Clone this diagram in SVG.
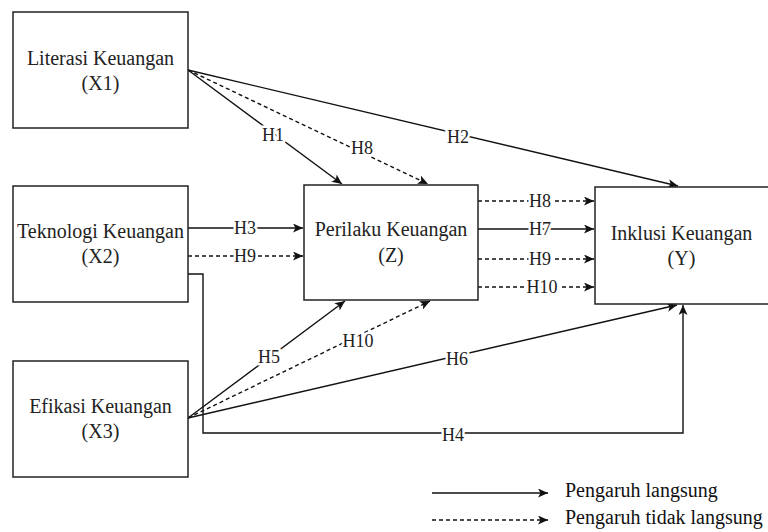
<svg xmlns="http://www.w3.org/2000/svg" width="768" height="532" viewBox="0 0 768 532" font-family="Liberation Serif, Times New Roman, serif">
  <defs>
    <marker id="arr" markerUnits="userSpaceOnUse" markerWidth="12" markerHeight="10" refX="10" refY="4.5" orient="auto">
      <path d="M0,0 L10,4.5 L0,9 L2.5,4.5 Z" fill="#111"/>
    </marker>
    <style>
      .box { fill: #fff; stroke: #222; stroke-width: 1.5; }
      .t { font-size: 20px; fill: #222; text-anchor: middle; }
      .lt { font-size: 20px; fill: #111; }
      .e { fill: none; stroke: #111; stroke-width: 1.4; marker-end: url(#arr); }
      .d { stroke-dasharray: 4 3; }
      .lbl { font-size: 18px; fill: #222; text-anchor: middle; stroke: #fff; stroke-width: 5; paint-order: stroke; stroke-linejoin: round; }
    </style>
  </defs>
  <rect width="768" height="532" fill="#fff"/>

  <g id="connectors">
    <line class="e" x1="188" y1="70" x2="342" y2="184"/>
    <line class="e d" x1="188" y1="70" x2="428" y2="184"/>
    <line class="e" x1="188" y1="70" x2="678" y2="186"/>
    <line class="e" x1="188" y1="228" x2="303" y2="228"/>
    <line class="e d" x1="188" y1="256" x2="303" y2="256"/>
    <path class="e" d="M188,274 H203 V433 H683 V305"/>
    <line class="e d" x1="478" y1="201" x2="594" y2="201"/>
    <line class="e" x1="478" y1="229" x2="594" y2="229"/>
    <line class="e d" x1="478" y1="259" x2="594" y2="259"/>
    <line class="e d" x1="478" y1="287" x2="594" y2="287"/>
    <line class="e" x1="188" y1="418" x2="345" y2="301"/>
    <line class="e d" x1="188" y1="418" x2="430" y2="301"/>
    <line class="e" x1="188" y1="418" x2="677" y2="305"/>

    <text class="lbl" x="273" y="141" font-family="Liberation Serif">H1</text>
    <text class="lbl" x="362" y="154" font-family="Liberation Serif">H8</text>
    <text class="lbl" x="458" y="143" font-family="Liberation Serif">H2</text>
    <text class="lbl" x="245" y="234" font-family="Liberation Serif">H3</text>
    <text class="lbl" x="245" y="262" font-family="Liberation Serif">H9</text>
    <text class="lbl" x="540" y="207" font-family="Liberation Serif">H8</text>
    <text class="lbl" x="540" y="235" font-family="Liberation Serif">H7</text>
    <text class="lbl" x="540" y="265" font-family="Liberation Serif">H9</text>
    <text class="lbl" x="542" y="293" font-family="Liberation Serif">H10</text>
    <text class="lbl" x="269" y="363" font-family="Liberation Serif">H5</text>
    <text class="lbl" x="358" y="347" font-family="Liberation Serif">H10</text>
    <text class="lbl" x="457" y="365" font-family="Liberation Serif">H6</text>
    <text class="lbl" x="453" y="441" font-family="Liberation Serif">H4</text>
  </g>

  <g id="X1">
    <rect class="box" x="13" y="12" width="175" height="116"/>
    <text class="t" x="100.5" y="65" font-family="Liberation Serif">Literasi Keuangan</text>
    <text class="t" x="100.5" y="90" font-family="Liberation Serif">(X1)</text>
  </g>
  <g id="X2">
    <rect class="box" x="13" y="186" width="175" height="116"/>
    <text class="t" x="100.5" y="238" font-family="Liberation Serif">Teknologi Keuangan</text>
    <text class="t" x="100.5" y="263" font-family="Liberation Serif">(X2)</text>
  </g>
  <g id="X3">
    <rect class="box" x="13" y="361" width="175" height="116"/>
    <text class="t" x="100.5" y="413" font-family="Liberation Serif">Efikasi Keuangan</text>
    <text class="t" x="100.5" y="438" font-family="Liberation Serif">(X3)</text>
  </g>
  <g id="Z">
    <rect class="box" x="304" y="185" width="174" height="115"/>
    <text class="t" x="391" y="236" font-family="Liberation Serif">Perilaku Keuangan</text>
    <text class="t" x="391" y="262" font-family="Liberation Serif">(Z)</text>
  </g>
  <g id="Y">
    <rect class="box" x="595" y="187" width="176" height="117"/>
    <text class="t" x="681.5" y="240" font-family="Liberation Serif">Inklusi Keuangan</text>
    <text class="t" x="681.5" y="265" font-family="Liberation Serif">(Y)</text>
  </g>

  <g id="legend">
    <line class="e" x1="432" y1="493" x2="548" y2="493"/>
    <line class="e d" x1="432" y1="520" x2="548" y2="520"/>
    <text class="lt" x="565" y="497" font-family="Liberation Serif">Pengaruh langsung</text>
    <text class="lt" x="565" y="524" font-family="Liberation Serif">Pengaruh tidak langsung</text>
  </g>
</svg>
